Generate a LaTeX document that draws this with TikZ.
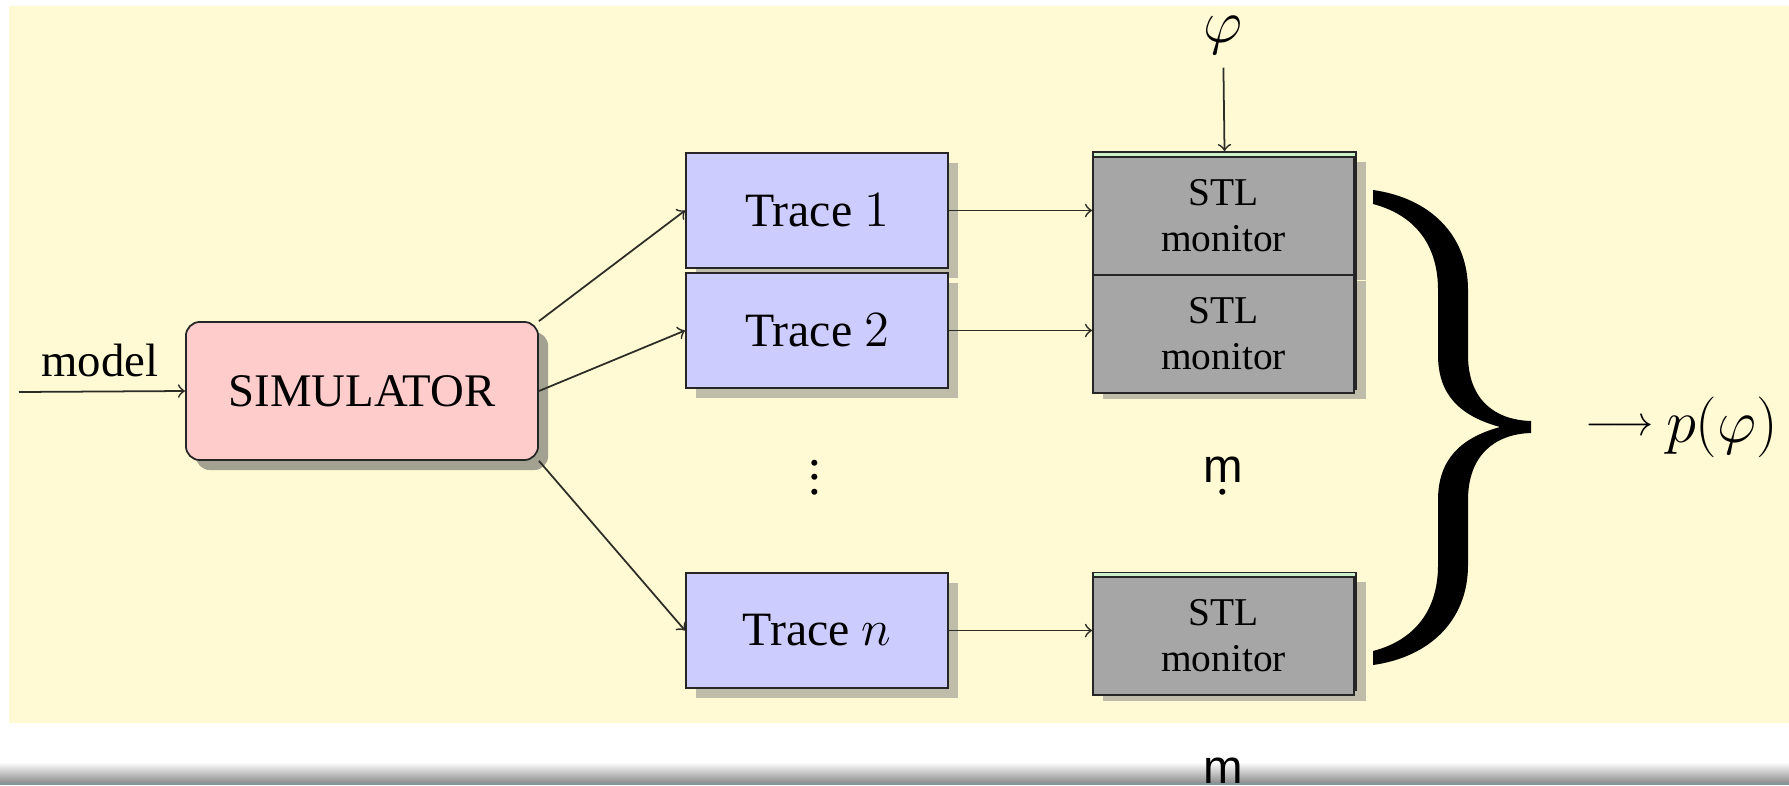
\documentclass[tikz,border=0pt]{standalone}
\usepackage[no-math]{fontspec}
\setmainfont{Liberation Serif}
\newfontfamily\artsans{Liberation Sans}
\usetikzlibrary{shadows}
\definecolor{cream}{RGB}{255,250,211}
\definecolor{tracecol}{RGB}{204,204,255}
\definecolor{simcol}{RGB}{255,204,204}
\definecolor{stlgreen}{RGB}{204,242,204}
\definecolor{stlgray}{RGB}{166,166,166}
\definecolor{linecol}{RGB}{45,45,40}
\definecolor{tealbar}{RGB}{60,120,130}
\begin{document}
\begin{tikzpicture}[x=0.01cm,y=-0.01cm,
  box/.style={draw=black!85, line width=0.5pt, inner sep=0pt},
  shad/.style={drop shadow={shadow xshift=0.1cm, shadow yshift=-0.1cm, opacity=.5, fill=black!50}},
  simbox/.style={box, fill=simcol, rounded corners=0.14cm, minimum width=3.52cm, minimum height=1.38cm,
    font=\fontsize{13.3}{16}\selectfont,
    drop shadow={shadow xshift=0.1cm, shadow yshift=-0.1cm, opacity=.6, fill=black!60}},
  tracebox/.style={box, shad, fill=tracecol, minimum width=2.62cm, minimum height=1.15cm,
    font=\fontsize{13.6}{16}\selectfont},
  greenbox/.style={box, shad, fill=stlgreen, minimum width=2.63cm, minimum height=1.18cm},
  stlbox/.style={box, fill=stlgray, minimum width=2.61cm, minimum height=1.18cm, align=center,
    font=\fontsize{11.2}{13.1}\selectfont},
  arr/.style={->, draw=linecol, line width=0.5pt},
  dotsstyle/.style={inner sep=0pt, anchor=base, font=\fontsize{14.4}{17}\selectfont},
  sansm/.style={inner sep=0pt, anchor=base, font=\artsans\fontsize{13.5}{16}\selectfont}
]
\useasboundingbox (0,0) rectangle (1789,785);
\fill[white] (0,0) rectangle (1789,785);
\fill[cream] (9,6) rectangle (1789,723);
\shade[top color=white, bottom color=black!45] (0,762) rectangle (1789,783);
\fill[tealbar!70!black!60] (0,783) rectangle (1789,785);

% simulator
\node[simbox] (sim) at (362,391) {SIMULATOR};
\coordinate (min) at (19,392);
\node[inner sep=0pt, anchor=base, font=\fontsize{13.3}{16}\selectfont] (model) at (100,376) {model};

% traces
\node[tracebox] (t1) at (817,210.5) {Trace $1$};
\node[tracebox] (t2) at (817,330.5) {Trace $2$};
\node[tracebox] (tn) at (817,630.5) {Trace $n$};
\node[dotsstyle] (tdots) at (815,494) {$\vdots$};

% STL monitors
\node[greenbox] (g1) at (1224.5,211) {};
\node[greenbox] (g2) at (1224.5,330) {};
\node[greenbox] (gn) at (1224.5,631.5) {};
\node[stlbox] (s1) at (1223.5,216) {STL\\monitor};
\node[stlbox] (s2) at (1223.5,334) {STL\\monitor};
\node[stlbox] (sn) at (1223.5,636) {STL\\monitor};
\node[dotsstyle] (sdots) at (1223,494) {$\vdots$};
\node[sansm, fill=cream] (mmid) at (1223,482) {m};

% formula input
\node[inner sep=0pt, font=\fontsize{17.28}{20}\selectfont] (phi) at (1223,35) {$\varphi$};

% connectors
\draw[arr] (min) -- (sim.west);
\draw[arr] (sim.north east) -- (t1.west);
\draw[arr] (sim.east) -- (t2.west);
\draw[arr] (sim.south east) -- (tn.west);
\draw[arr] (t1.east) -- (t1.east -| s1.west);
\draw[arr] (t2.east) -- (t2.east -| s2.west);
\draw[arr] (tn.east) -- (tn.east -| sn.west);
\draw[arr, shorten <=0.13cm] (phi) -- (g1.north);

% big brace
\fill[black] (1373,190) .. controls (1430,198) and (1468,235) .. (1468,290)
  -- (1468,355) .. controls (1468,400) and (1495,420) .. (1531,421)
  -- (1531,433) .. controls (1495,434) and (1468,455) .. (1468,500)
  -- (1468,565) .. controls (1468,620) and (1430,657) .. (1373,665)
  -- (1373,651) .. controls (1415,640) and (1438,610) .. (1438,565)
  -- (1438,500) .. controls (1438,460) and (1460,438) .. (1500,427)
  .. controls (1460,416) and (1438,395) .. (1438,355)
  -- (1438,290) .. controls (1438,245) and (1415,215) .. (1373,204) -- cycle;

% result
\node[inner sep=0pt, anchor=west] (out) at (1585,427)
  {\raisebox{1.8pt}{\fontsize{11.5}{14}\selectfont$\longrightarrow$}\hspace{3.5pt}{\fontsize{18.5}{22}\selectfont$p(\varphi)$}};

% stray glyph at bottom
\node[sansm] (mbot) at (1223,783) {m};
\end{tikzpicture}
\end{document}
